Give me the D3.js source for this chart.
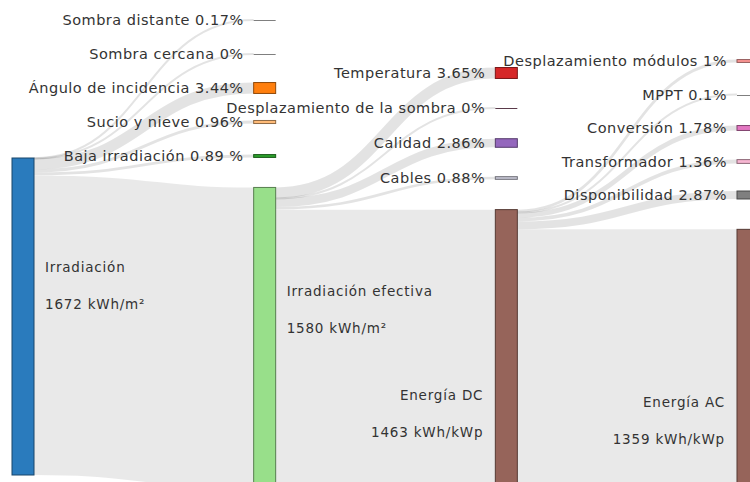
<!DOCTYPE html>
<html>
<head>
<meta charset="utf-8">
<title>Pérdidas</title>
<script src="https://cdn.jsdelivr.net/npm/d3@7"></script>
<style>
  body { margin: 0; background: #fff; }
  text { font-family: "DejaVu Sans", Verdana, sans-serif; fill: #333; }
</style>
</head>
<body>
<script>
// datos
const mainNames = ["Irradiación", "Irradiación efectiva", "Energía DC", "Energía AC"];
const mainValues = [1672, 1580, 1463, 1359];
const mainUnits = ["kWh/m²", "kWh/m²", "kWh/kWp", "kWh/kWp"];
const mainColors = ["#2a7bbd", "#98df8a", "#96645a", "#96645a"];

const lossNames1 = ["Sombra distante", "Sombra cercana", "Ángulo de incidencia", "Sucio y nieve", "Baja irradiación"];
const lossPct1 = [0.17, 0, 3.44, 0.96, 0.89];
const lossText1 = ["0.17%", "0%", "3.44%", "0.96%", "0.89 %"];
const lossColors1 = ["#7f7f7f", "#7f7f7f", "#ff7f0e", "#ffbb78", "#2ca02c"];

const lossNames2 = ["Temperatura", "Desplazamiento de la sombra", "Calidad", "Cables"];
const lossPct2 = [3.65, 0, 2.86, 0.88];
const lossText2 = ["3.65%", "0%", "2.86%", "0.88%"];
const lossColors2 = ["#d62728", "#5a3a4a", "#9467bd", "#c7c7d5"];

const lossNames3 = ["Desplazamiento módulos", "MPPT", "Conversión", "Transformador", "Disponibilidad"];
const lossPct3 = [1, 0.1, 1.78, 1.36, 2.87];
const lossText3 = ["1%", "0.1%", "1.78%", "1.36%", "2.87%"];
const lossColors3 = ["#ff9896", "#7f7f7f", "#e377c2", "#f7b6d2", "#7f7f7f"];

// layout
const W = 750, H = 482, nodeW = 22;
const mainBottom = [475, 487, 487, 487];
const lossRange = [[20, 156], [73, 178], [61, 195]];

const svg = d3.select("body").append("svg")
    .attr("width", W).attr("height", H);

const x = d3.scalePoint().domain(d3.range(4)).range([12, 737]);
const h = d3.scaleLinear().domain([0, 1672]).range([0, 317]);

const mains = mainNames.map((name, i) => {
  const hh = h(mainValues[i]);
  return {name, value: mainValues[i], unit: mainUnits[i], color: mainColors[i],
          x0: x(i), x1: x(i) + nodeW, y1: mainBottom[i], y0: mainBottom[i] - hh, h: hh};
});

const groups = [
  {names: lossNames1, pct: lossPct1, txt: lossText1, colors: lossColors1},
  {names: lossNames2, pct: lossPct2, txt: lossText2, colors: lossColors2},
  {names: lossNames3, pct: lossPct3, txt: lossText3, colors: lossColors3}
];

const lossNodes = [], lossLinks = [];
groups.forEach((g, gi) => {
  const src = mains[gi];
  const ys = d3.scalePoint().domain(g.names).range(lossRange[gi]);
  let acc = src.y0;
  g.names.forEach((name, j) => {
    const v = src.value * g.pct[j] / 100;
    const hh = h(v);
    const cy = ys(name);
    const node = {name, label: name + " " + g.txt[j], color: g.colors[j],
                  x0: x(gi + 1), y0: cy - hh / 2, h: hh, cy};
    lossNodes.push(node);
    lossLinks.push({sx: src.x1, sy: acc + hh / 2, tx: node.x0, ty: cy, w: Math.max(2, hh)});
    acc += hh;
  });
});

const mainLinks = d3.range(3).map(i => {
  const s = mains[i], t = mains[i + 1];
  return {sx: s.x1, sy: s.y1 - t.h / 2, tx: t.x0, ty: t.y0 + t.h / 2, w: t.h};
});

const link = d3.linkHorizontal().source(d => [d.sx, d.sy]).target(d => [d.tx, d.ty]);

svg.append("g").selectAll("path").data(mainLinks).join("path")
    .attr("d", link)
    .attr("fill", "none")
    .attr("stroke", "#000")
    .attr("stroke-opacity", 0.085)
    .attr("stroke-width", d => d.w);

svg.append("g").selectAll("path").data(lossLinks).join("path")
    .attr("d", link)
    .attr("fill", "none")
    .attr("stroke", "#000")
    .attr("stroke-opacity", 0.11)
    .attr("stroke-width", d => d.w);

// nodos principales
svg.append("g").selectAll("rect").data(mains).join("rect")
    .attr("x", d => d.x0).attr("y", d => d.y0)
    .attr("width", nodeW).attr("height", d => d.h)
    .attr("fill", d => d.color)
    .attr("stroke", d => d3.rgb(d.color).darker(1.6));

// nodos de pérdidas (los muy pequeños se ven como una línea)
const thin = d => d.h < 1.5;
svg.append("g").selectAll("rect").data(lossNodes.filter(d => !thin(d))).join("rect")
    .attr("x", d => d.x0).attr("y", d => d.y0)
    .attr("width", nodeW).attr("height", d => d.h)
    .attr("fill", d => d.color)
    .attr("stroke", d => d3.rgb(d.color).darker(1.6))
    .attr("stroke-width", 1);

svg.append("g").selectAll("line").data(lossNodes.filter(thin)).join("line")
    .attr("x1", d => d.x0).attr("x2", d => d.x0 + nodeW)
    .attr("y1", d => Math.round(d.cy) + 0.5).attr("y2", d => Math.round(d.cy) + 0.5)
    .attr("stroke", d => d.color)
    .attr("stroke-width", 1);

svg.append("g").selectAll("text").data(lossNodes).join("text")
    .attr("x", d => d.x0 - 10).attr("y", d => d.cy)
    .attr("dy", "0.35em")
    .attr("text-anchor", "end")
    .style("font-size", "14.5px")
    .style("letter-spacing", "0.5px")
    .text(d => d.label);

// etiquetas principales
const ml = svg.append("g").selectAll("g").data(mains).join("g")
    .attr("transform", (d, i) => {
      const left = i < 2;
      const ty = d.y0 + d.h * (left ? 0.345 : 0.67);
      return `translate(${left ? d.x1 + 11 : d.x0 - 12},${ty})`;
    })
    .attr("text-anchor", (d, i) => i < 2 ? "start" : "end")
    .style("font-size", "13.5px")
    .style("letter-spacing", "0.8px");
ml.append("text").attr("dy", "0.35em").text(d => d.name);
ml.append("text").attr("y", 37).attr("dy", "0.35em").text(d => d.value + " " + d.unit);
</script>
</body>
</html>
